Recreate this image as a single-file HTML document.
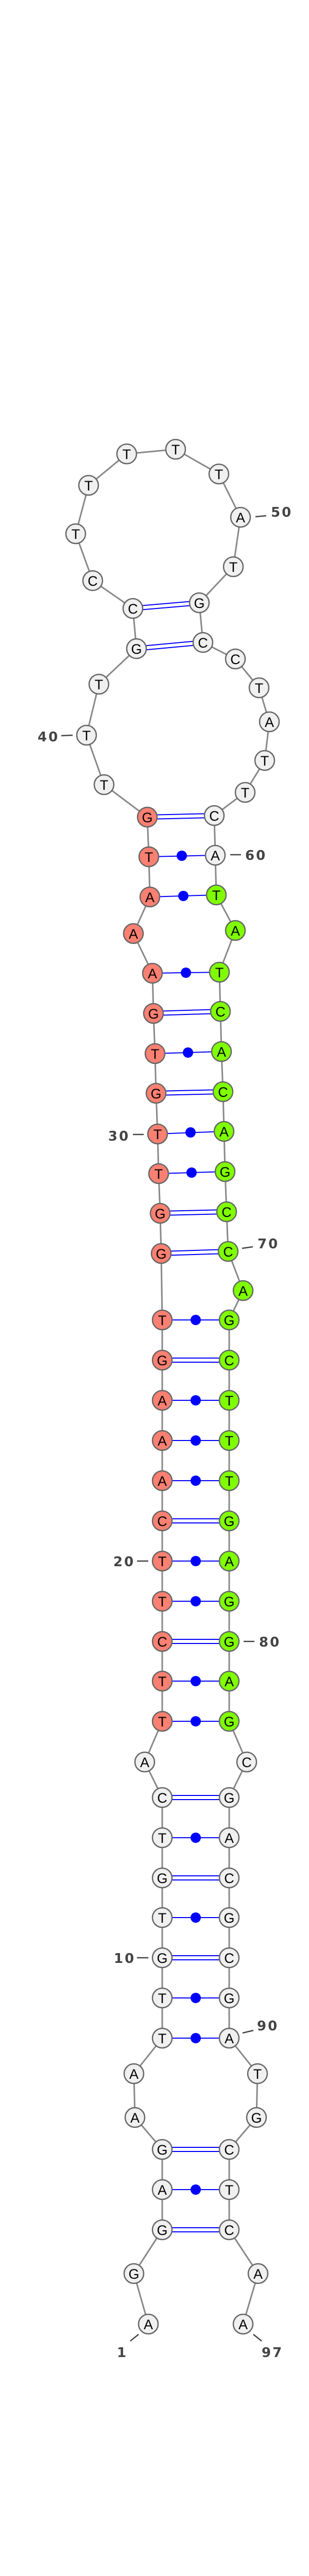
<!DOCTYPE html>
<html><head><meta charset="utf-8"><style>
html,body{margin:0;padding:0;background:#fff;width:600px;height:5330px;overflow:hidden}
svg{display:block}
.n{stroke:#666;stroke-width:2.5}
.w{fill:#f0f0f0}.s{fill:#fa8072}.g{fill:#7fff00}
text.l{font-family:"Liberation Sans",sans-serif;font-size:27px;text-anchor:middle;fill:#000}
text.num{font-family:"DejaVu Sans","Liberation Sans",sans-serif;font-weight:bold;font-size:26px;fill:#444;letter-spacing:3px}
.p{stroke:#00f;stroke-width:2;fill:none}
.t{stroke:#444;stroke-width:2.5}
</style></head><body>
<svg width="600" height="5330" viewBox="0 0 600 5330" xmlns="http://www.w3.org/2000/svg">
<polyline fill="none" stroke="#888" stroke-width="3" points="288,4511 260,4413 315,4328 315,4250 315,4172 262,4110 260,4025 315,3956 315,3878 315,3800 315,3722 315,3645 315,3567 315,3489 281,3420 315,3341 315,3263 315,3186 315,3108 315,3030 315,2952 315,2874 315,2796 315,2718 315,2640 315,2562 313,2433 311,2355 308,2278 306,2201 303,2122 301,2045 298,1967 296,1889 259,1812 291,1741 289,1663 286,1586 202,1523 168,1427 192,1328 265,1259 258,1181 180,1127 147,1036 172,942 246,881 341,872 425,920 467,1004 453,1100 387,1170 394,1247 457,1279 503,1335 523,1401 514,1476 476,1538 416,1583 418,1660 420,1737 457,1806 426,1887 428,1963 430,2041 433,2119 435,2196 437,2274 440,2352 443,2429 472,2505 445,2562 445,2640 445,2718 445,2796 445,2874 445,2952 445,3030 445,3108 445,3186 445,3263 445,3341 479,3420 445,3489 445,3567 445,3645 445,3722 445,3800 445,3878 445,3956 500,4025 498,4110 445,4172 445,4250 445,4328 501,4413 472,4511"/>
<g class="p">
<path d="M315,4324H445M315,4332H445"/>
<path d="M315,4168H445M315,4176H445"/>
<path d="M315,3796H445M315,3804H445"/>
<path d="M315,3641H445M315,3649H445"/>
<path d="M315,3485H445M315,3493H445"/>
<path d="M315,3182H445M315,3190H445"/>
<path d="M315,2948H445M315,2956H445"/>
<path d="M315,2636H445M315,2644H445"/>
<path d="M313,2429L443,2425M313,2437L443,2433"/>
<path d="M311,2351L440,2348M311,2359L440,2356"/>
<path d="M303,2118L433,2115M303,2126L433,2123"/>
<path d="M298,1963L428,1959M298,1971L428,1967"/>
<path d="M286,1582L416,1579M286,1590L416,1587"/>
<path d="M265,1255L394,1243M265,1263L394,1251"/>
<path d="M258,1177L387,1166M258,1185L387,1174"/>
<path d="M315,4250H445M315,3956H445M315,3878H445M315,3722H445M315,3567H445M315,3341H445M315,3263H445M315,3108H445M315,3030H445M315,2874H445M315,2796H445M315,2718H445M315,2562H445"/>
<path d="M308,2278L437,2274M306,2201L435,2196M301,2045L430,2041M296,1889L426,1887M291,1741L420,1737M289,1663L418,1660"/>
</g>
<g fill="#00f">
<circle cx="380" cy="4250" r="10"/><circle cx="380" cy="3956" r="10"/><circle cx="380" cy="3878" r="10"/><circle cx="380" cy="3722" r="10"/><circle cx="380" cy="3567" r="10"/><circle cx="380" cy="3341" r="10"/><circle cx="380" cy="3263" r="10"/><circle cx="380" cy="3108" r="10"/><circle cx="380" cy="3030" r="10"/><circle cx="380" cy="2874" r="10"/><circle cx="380" cy="2796" r="10"/><circle cx="380" cy="2718" r="10"/><circle cx="380" cy="2562" r="10"/>
<circle cx="372" cy="2276" r="10"/><circle cx="370" cy="2198" r="10"/><circle cx="365" cy="2043" r="10"/><circle cx="361" cy="1888" r="10"/><circle cx="356" cy="1739" r="10"/><circle cx="353" cy="1661" r="10"/>
</g>
<g class="n">
<circle class="w" cx="288" cy="4511" r="19"/><circle class="w" cx="260" cy="4413" r="19"/><circle class="w" cx="315" cy="4328" r="19"/><circle class="w" cx="315" cy="4250" r="19"/><circle class="w" cx="315" cy="4172" r="19"/><circle class="w" cx="262" cy="4110" r="19"/><circle class="w" cx="260" cy="4025" r="19"/><circle class="w" cx="315" cy="3956" r="19"/><circle class="w" cx="315" cy="3878" r="19"/><circle class="w" cx="315" cy="3800" r="19"/><circle class="w" cx="315" cy="3722" r="19"/><circle class="w" cx="315" cy="3645" r="19"/><circle class="w" cx="315" cy="3567" r="19"/><circle class="w" cx="315" cy="3489" r="19"/><circle class="w" cx="281" cy="3420" r="19"/>
<circle class="s" cx="315" cy="3341" r="19"/><circle class="s" cx="315" cy="3263" r="19"/><circle class="s" cx="315" cy="3186" r="19"/><circle class="s" cx="315" cy="3108" r="19"/><circle class="s" cx="315" cy="3030" r="19"/><circle class="s" cx="315" cy="2952" r="19"/><circle class="s" cx="315" cy="2874" r="19"/><circle class="s" cx="315" cy="2796" r="19"/><circle class="s" cx="315" cy="2718" r="19"/><circle class="s" cx="315" cy="2640" r="19"/><circle class="s" cx="315" cy="2562" r="19"/><circle class="s" cx="313" cy="2433" r="19"/><circle class="s" cx="311" cy="2355" r="19"/><circle class="s" cx="308" cy="2278" r="19"/><circle class="s" cx="306" cy="2201" r="19"/><circle class="s" cx="303" cy="2122" r="19"/><circle class="s" cx="301" cy="2045" r="19"/><circle class="s" cx="298" cy="1967" r="19"/><circle class="s" cx="296" cy="1889" r="19"/><circle class="s" cx="259" cy="1812" r="19"/><circle class="s" cx="291" cy="1741" r="19"/><circle class="s" cx="289" cy="1663" r="19"/><circle class="s" cx="286" cy="1586" r="19"/>
<circle class="w" cx="202" cy="1523" r="19"/><circle class="w" cx="168" cy="1427" r="19"/><circle class="w" cx="192" cy="1328" r="19"/><circle class="w" cx="265" cy="1259" r="19"/><circle class="w" cx="258" cy="1181" r="19"/><circle class="w" cx="180" cy="1127" r="19"/><circle class="w" cx="147" cy="1036" r="19"/><circle class="w" cx="172" cy="942" r="19"/><circle class="w" cx="246" cy="881" r="19"/><circle class="w" cx="341" cy="872" r="19"/><circle class="w" cx="425" cy="920" r="19"/><circle class="w" cx="467" cy="1004" r="19"/><circle class="w" cx="453" cy="1100" r="19"/><circle class="w" cx="387" cy="1170" r="19"/><circle class="w" cx="394" cy="1247" r="19"/><circle class="w" cx="457" cy="1279" r="19"/><circle class="w" cx="503" cy="1335" r="19"/><circle class="w" cx="523" cy="1401" r="19"/><circle class="w" cx="514" cy="1476" r="19"/><circle class="w" cx="476" cy="1538" r="19"/><circle class="w" cx="416" cy="1583" r="19"/><circle class="w" cx="418" cy="1660" r="19"/>
<circle class="g" cx="420" cy="1737" r="19"/><circle class="g" cx="457" cy="1806" r="19"/><circle class="g" cx="426" cy="1887" r="19"/><circle class="g" cx="428" cy="1963" r="19"/><circle class="g" cx="430" cy="2041" r="19"/><circle class="g" cx="433" cy="2119" r="19"/><circle class="g" cx="435" cy="2196" r="19"/><circle class="g" cx="437" cy="2274" r="19"/><circle class="g" cx="440" cy="2352" r="19"/><circle class="g" cx="443" cy="2429" r="19"/><circle class="g" cx="472" cy="2505" r="19"/><circle class="g" cx="445" cy="2562" r="19"/><circle class="g" cx="445" cy="2640" r="19"/><circle class="g" cx="445" cy="2718" r="19"/><circle class="g" cx="445" cy="2796" r="19"/><circle class="g" cx="445" cy="2874" r="19"/><circle class="g" cx="445" cy="2952" r="19"/><circle class="g" cx="445" cy="3030" r="19"/><circle class="g" cx="445" cy="3108" r="19"/><circle class="g" cx="445" cy="3186" r="19"/><circle class="g" cx="445" cy="3263" r="19"/><circle class="g" cx="445" cy="3341" r="19"/>
<circle class="w" cx="479" cy="3420" r="19"/><circle class="w" cx="445" cy="3489" r="19"/><circle class="w" cx="445" cy="3567" r="19"/><circle class="w" cx="445" cy="3645" r="19"/><circle class="w" cx="445" cy="3722" r="19"/><circle class="w" cx="445" cy="3800" r="19"/><circle class="w" cx="445" cy="3878" r="19"/><circle class="w" cx="445" cy="3956" r="19"/><circle class="w" cx="500" cy="4025" r="19"/><circle class="w" cx="498" cy="4110" r="19"/><circle class="w" cx="445" cy="4172" r="19"/><circle class="w" cx="445" cy="4250" r="19"/><circle class="w" cx="445" cy="4328" r="19"/><circle class="w" cx="501" cy="4413" r="19"/><circle class="w" cx="472" cy="4511" r="19"/>
</g>
<g>
<text class="l" x="288" y="4521">A</text><text class="l" x="260" y="4423">G</text><text class="l" x="315" y="4338">G</text><text class="l" x="315" y="4260">A</text><text class="l" x="315" y="4182">G</text><text class="l" x="262" y="4120">A</text><text class="l" x="260" y="4035">A</text><text class="l" x="315" y="3966">T</text><text class="l" x="315" y="3888">T</text><text class="l" x="315" y="3810">G</text><text class="l" x="315" y="3732">T</text><text class="l" x="315" y="3655">G</text><text class="l" x="315" y="3577">T</text><text class="l" x="315" y="3499">C</text><text class="l" x="281" y="3430">A</text>
<text class="l" x="315" y="3351">T</text><text class="l" x="315" y="3273">T</text><text class="l" x="315" y="3196">C</text><text class="l" x="315" y="3118">T</text><text class="l" x="315" y="3040">T</text><text class="l" x="315" y="2962">C</text><text class="l" x="315" y="2884">A</text><text class="l" x="315" y="2806">A</text><text class="l" x="315" y="2728">A</text><text class="l" x="315" y="2650">G</text><text class="l" x="315" y="2572">T</text><text class="l" x="313" y="2443">G</text><text class="l" x="311" y="2365">G</text><text class="l" x="308" y="2288">T</text><text class="l" x="306" y="2211">T</text><text class="l" x="303" y="2132">G</text><text class="l" x="301" y="2055">T</text><text class="l" x="298" y="1977">G</text><text class="l" x="296" y="1899">A</text><text class="l" x="259" y="1822">A</text><text class="l" x="291" y="1751">A</text><text class="l" x="289" y="1673">T</text><text class="l" x="286" y="1596">G</text>
<text class="l" x="202" y="1533">T</text><text class="l" x="168" y="1437">T</text><text class="l" x="192" y="1338">T</text><text class="l" x="265" y="1269">G</text><text class="l" x="258" y="1191">C</text><text class="l" x="180" y="1137">C</text><text class="l" x="147" y="1046">T</text><text class="l" x="172" y="952">T</text><text class="l" x="246" y="891">T</text><text class="l" x="341" y="882">T</text><text class="l" x="425" y="930">T</text><text class="l" x="467" y="1014">A</text><text class="l" x="453" y="1110">T</text><text class="l" x="387" y="1180">G</text><text class="l" x="394" y="1257">C</text><text class="l" x="457" y="1289">C</text><text class="l" x="503" y="1345">T</text><text class="l" x="523" y="1411">A</text><text class="l" x="514" y="1486">T</text><text class="l" x="476" y="1548">T</text><text class="l" x="416" y="1593">C</text><text class="l" x="418" y="1670">A</text>
<text class="l" x="420" y="1747">T</text><text class="l" x="457" y="1816">A</text><text class="l" x="426" y="1897">T</text><text class="l" x="428" y="1973">C</text><text class="l" x="430" y="2051">A</text><text class="l" x="433" y="2129">C</text><text class="l" x="435" y="2206">A</text><text class="l" x="437" y="2284">G</text><text class="l" x="440" y="2362">C</text><text class="l" x="443" y="2439">C</text><text class="l" x="472" y="2515">A</text><text class="l" x="445" y="2572">G</text><text class="l" x="445" y="2650">C</text><text class="l" x="445" y="2728">T</text><text class="l" x="445" y="2806">T</text><text class="l" x="445" y="2884">T</text><text class="l" x="445" y="2962">G</text><text class="l" x="445" y="3040">A</text><text class="l" x="445" y="3118">G</text><text class="l" x="445" y="3196">G</text><text class="l" x="445" y="3273">A</text><text class="l" x="445" y="3351">G</text>
<text class="l" x="479" y="3430">C</text><text class="l" x="445" y="3499">G</text><text class="l" x="445" y="3577">A</text><text class="l" x="445" y="3655">C</text><text class="l" x="445" y="3732">G</text><text class="l" x="445" y="3810">C</text><text class="l" x="445" y="3888">G</text><text class="l" x="445" y="3966">A</text><text class="l" x="500" y="4035">T</text><text class="l" x="498" y="4120">G</text><text class="l" x="445" y="4182">C</text><text class="l" x="445" y="4260">T</text><text class="l" x="445" y="4338">C</text><text class="l" x="501" y="4423">A</text><text class="l" x="472" y="4521">A</text>
</g>
<g class="t">
<line x1="496" y1="1003" x2="517" y2="1001"/>
<line x1="119" y1="1428" x2="141" y2="1427"/>
<line x1="447" y1="1659" x2="468" y2="1659"/>
<line x1="258" y1="2202" x2="279" y2="2202"/>
<line x1="470" y1="2423" x2="491" y2="2420"/>
<line x1="266" y1="3030" x2="288" y2="3030"/>
<line x1="473" y1="3186" x2="494" y2="3186"/>
<line x1="266" y1="3800" x2="288" y2="3800"/>
<line x1="471" y1="3946" x2="492" y2="3941"/>
<line x1="253" y1="4544" x2="269" y2="4531"/>
<line x1="492" y1="4531" x2="508" y2="4544"/>
</g>
<text class="num" x="526" y="1003">50</text>
<text class="num" x="73" y="1439">40</text>
<text class="num" x="476" y="1669">60</text>
<text class="num" x="210" y="2214">30</text>
<text class="num" x="500" y="2423">70</text>
<text class="num" x="220" y="3040">20</text>
<text class="num" x="503" y="3196">80</text>
<text class="num" x="221" y="3810">10</text>
<text class="num" x="499" y="3941">90</text>
<text class="num" x="227" y="4575">1</text>
<text class="num" x="508" y="4575">97</text>
<text x="300" y="5320" text-anchor="middle" font-family="DejaVu Sans, Liberation Sans, sans-serif" font-weight="bold" font-size="10.5px" fill="#000">dme-mir-2b-2_annot [-42.8]</text>
</svg>
</body></html>
